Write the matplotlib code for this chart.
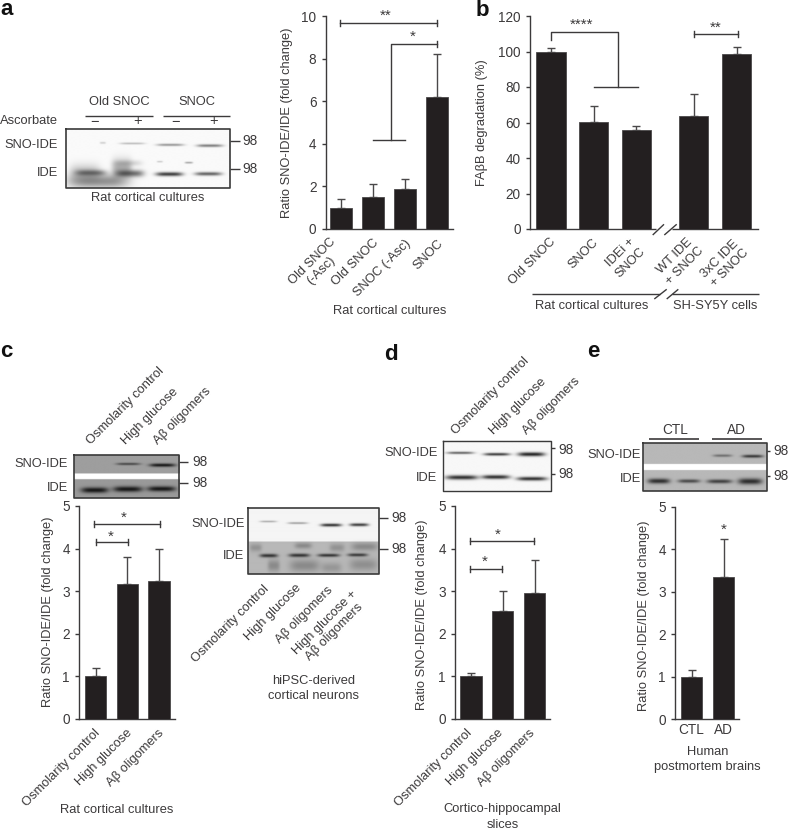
import numpy as np
import matplotlib
matplotlib.use('Agg')
import matplotlib.pyplot as plt
from matplotlib.transforms import ScaledTranslation

plt.rcParams['font.family'] = ['Liberation Sans', 'DejaVu Sans']
W, H = 788, 832
INK = '#3c3a3b'
BAR = '#231f20'
FS = 9.3
FT = 9.8

# ---- data ----
a_labels = ['Old SNOC\n(-Asc)', 'Old SNOC', 'SNOC (-Asc)', 'SNOC']
a_values = [1.0, 1.5, 1.9, 6.2]
a_upper = [1.42, 2.1, 2.37, 8.2]
b_labels = ['Old SNOC', 'SNOC', 'IDEi +\nSNOC', 'WT IDE\n+ SNOC', '3xC IDE\n+ SNOC']
b_values = [100, 60.5, 55.5, 63.5, 98.5]
b_upper = [101.8, 69.5, 58, 75.8, 102.3]
c_labels = ['Osmolarity control', 'High glucose', 'Aβ oligomers']
c_values = [1.0, 3.17, 3.24]
c_upper = [1.2, 3.8, 4.0]
d_labels = c_labels
d_values = [1.0, 2.52, 2.95]
d_upper = [1.08, 3.0, 3.72]
e_labels = ['CTL', 'AD']
e_values = [1.0, 3.35]
e_upper = [1.17, 4.23]
hipsc_labels = ['Osmolarity control', 'High glucose', 'Aβ oligomers', 'High glucose +\nAβ oligomers']

fig = plt.figure(figsize=(W / 100, H / 100), dpi=100)


def make_axes(left, right, y0, ytop, ymax, c0, spacing):
    ax = fig.add_axes([left / W, 1 - y0 / H, (right - left) / W, (y0 - ytop) / H])
    ax.set_ylim(0, ymax)
    ax.set_xlim((left - c0) / spacing, (right - c0) / spacing)
    for s in ('top', 'right'):
        ax.spines[s].set_visible(False)
    for s in ('left', 'bottom'):
        ax.spines[s].set_color(INK)
        ax.spines[s].set_linewidth(1.0)
    ax.tick_params(axis='y', length=3.2, width=1.0, color=INK, labelcolor=INK, labelsize=FT, pad=3.5)
    ax.tick_params(axis='x', length=0, labelcolor=INK, labelsize=FS)
    ax.patch.set_alpha(0)
    return ax


def bars(ax, xs, vals, upper, width=0.68):
    ax.bar(xs, vals, width=width, color=BAR, edgecolor='#4a4849', linewidth=0.6, zorder=3)
    low = np.zeros(len(vals))
    up = np.array(upper) - np.array(vals)
    ax.errorbar(xs, vals, yerr=[low, up], fmt='none', ecolor='#4a4849', elinewidth=1.0,
                capsize=2.6, capthick=1.0, zorder=2, clip_on=False)


def bracket(ax, x0, x1, y, cap):
    ax.plot([x0, x1], [y, y], color=INK, lw=1.0, clip_on=False, zorder=4)
    for x in (x0, x1):
        ax.plot([x, x], [y - cap, y + cap], color=INK, lw=1.0, clip_on=False, zorder=4)


def xlabels(ax, xs, labels, pad=9.0, spacing=1.2, nudges=None):
    ax.set_xticks(xs)
    ax.set_xticklabels(labels, rotation=45, ha='right', va='center', rotation_mode='anchor',
                       multialignment='center', linespacing=spacing)
    ax.tick_params(axis='x', pad=pad)
    if nudges:
        for lab, (dx, dy) in zip(ax.get_xticklabels(), nudges):
            off = ScaledTranslation(dx / 100, -dy / 100, fig.dpi_scale_trans)
            lab.set_transform(lab.get_transform() + off)


# ---- panel a chart ----
axa = make_axes(325.7, 452.7, 229, 16, 10, 341.3, 32)
xa = np.arange(4)
bars(axa, xa, a_values, a_upper)
axa.set_yticks([0, 2, 4, 6, 8, 10])
xlabels(axa, xa + 0.12, a_labels, spacing=1.1, nudges=[(-7, 3), (0, 0), (0, 0), (0, 0)])
bracket(axa, -0.04, 3.0, 9.67, 0.14)
axa.plot([1, 2], [4.19, 4.19], color=INK, lw=1.0, clip_on=False)
axa.plot([1.55, 1.55, 3.0], [4.19, 8.7, 8.7], color=INK, lw=1.0, clip_on=False)
axa.plot([3, 3], [8.56, 8.84], color=INK, lw=1.0, clip_on=False)

# ---- panel b chart ----
axb = make_axes(530, 757.7, 229, 16, 120, 551, 42.65)
xb = np.array([0, 1, 2, 3.35, 4.35])
bars(axb, xb, b_values, b_upper)
axb.set_yticks(range(0, 121, 20))
xlabels(axb, xb + 0.07, b_labels, nudges=[(0, -1), (0, -1), (-1, 3), (0, 3), (2, 5)])
axb.plot([0, 0, 1.57, 1.57], [106.5, 110.8, 110.8, 79.8], color=INK, lw=1.0, clip_on=False)
axb.plot([1, 2.03], [79.8, 79.8], color=INK, lw=1.0, clip_on=False)
bracket(axb, 3.35, 4.39, 110, 1.8)

# ---- panel c chart ----
axc = make_axes(79.3, 175, 718.7, 506, 5, 95.5, 31.85)
xc = np.arange(3)
bars(axc, xc, c_values, c_upper)
axc.set_yticks(range(6))
xlabels(axc, xc + 0.08, c_labels)
bracket(axc, -0.04, 2.03, 4.57, 0.07)
bracket(axc, 0.02, 1.03, 4.15, 0.07)

# ---- panel d chart ----
axd = make_axes(455.3, 550.3, 718.7, 506, 5, 470.8, 31.85)
xd = np.arange(3)
bars(axd, xd, d_values, d_upper)
axd.set_yticks(range(6))
xlabels(axd, xd - 0.03, d_labels)
bracket(axd, -0.03, 1.98, 4.17, 0.07)
bracket(axd, -0.03, 0.99, 3.51, 0.07)

# ---- panel e chart ----
axe = make_axes(675.3, 739.3, 719.3, 506.7, 5, 691.5, 32)
xe = np.arange(2)
bars(axe, xe, e_values, e_upper)
axe.set_yticks(range(6))
axe.set_xticks(xe)
axe.set_xticklabels(e_labels, fontsize=FT)
axe.tick_params(axis='x', pad=3)

# ---- overlay in pixel units ----
ov = fig.add_axes([0, 0, 1, 1], zorder=10)
ov.axis('off')
ov.patch.set_alpha(0)


def T(x, y, s, ha='center', va='center', size=FS, **kw):
    kw.setdefault('color', INK)
    ov.text(x, y, s, ha=ha, va=va, fontsize=size, **kw)


def L(xs, ys, lw=1.0, color=INK):
    ov.plot(xs, ys, color=color, lw=lw, solid_capstyle='butt')


def blot(box, regions, bands, frame='#3a3a3a', lw=1.2):
    x0, x1, y0, y1 = box
    S = 3
    xx, yy = np.meshgrid(np.linspace(x0, x1, int((x1 - x0) * S)), np.linspace(y0, y1, int((y1 - y0) * S)))
    img = np.ones_like(xx)
    for ya, yb, level in regions:
        img[(yy >= ya) & (yy < yb)] = level
    keep = np.ones_like(xx)
    for bx0, bx1, yc, strength, th in bands:
        cx, hw = (bx0 + bx1) / 2, (bx1 - bx0) / 2
        fx = np.exp(-np.abs((xx - cx) / hw) ** 4)
        fy = np.exp(-((yy - yc) / th) ** 2)
        keep = keep * (1 - strength * fx * fy)
    img = img * keep
    ov.imshow(img, cmap='gray', vmin=0, vmax=1, extent=(x0, x1, y1, y0), aspect='auto',
              interpolation='bilinear', zorder=1)
    ov.plot([x0, x1, x1, x0, x0], [y0, y0, y1, y1, y0], color=frame, lw=lw, zorder=3)


# panel letters
for x, y, s in [(0, 15, 'a'), (475.5, 16, 'b'), (0, 356.7, 'c'), (384, 360, 'd'), (587, 356.7, 'e')]:
    T(x, y, s, ha='left', va='baseline', size=16, fontweight='bold', color='#111111')

# y labels
YL = 'Ratio SNO-IDE/IDE (fold change)'
T(286.7, 122.5, YL, rotation=90)
T(482.3, 122.5, 'FAβB degradation (%)', rotation=90)
T(47.7, 611.7, YL, rotation=90)
T(422.3, 615, YL, rotation=90)
T(644, 615.8, YL, rotation=90)

# stars
for x, y, s in [(385.7, 16, '**'), (413, 37, '*'), (581.7, 25, '****'), (716, 28, '**'),
                (123.7, 518, '*'), (110.3, 536.5, '*'), (497.3, 534.5, '*'), (484.3, 562, '*'),
                (723.3, 529.5, '*')]:
    T(x, y, s, size=11)

# ---- blot a ----
T(119, 101.7, 'Old SNOC'); T(196.7, 101.7, 'SNOC')
L([85, 152.7], [116, 116]); L([162.7, 230], [116, 116])
T(58, 120.7, 'Ascorbate', ha='right')
for x, s in [(95, '−'), (137.7, '+'), (176, '−'), (213.7, '+')]:
    T(x, 121.5, s, size=10.5)
T(58, 144.7, 'SNO-IDE', ha='right'); T(58, 173, 'IDE', ha='right')
blot((66.3, 230, 129, 187.7), [(129, 188, 0.98)],
     [(68, 128, 181, 0.42, 7), (70, 100, 172, 0.22, 8), (112, 132, 168, 0.3, 9), (114, 142, 163, 0.15, 3),
      (76, 106, 172.7, 0.45, 3), (116, 144, 173.3, 0.55, 3.5),
      (156, 183, 174, 0.75, 2), (195, 222, 173.7, 0.6, 1.8),
      (100, 106, 142.7, 0.18, 1), (120, 145, 143.3, 0.25, 1), (157, 184, 144.7, 0.4, 1.2),
      (197, 223, 145.5, 0.5, 1.4), (157, 163, 161.5, 0.2, 0.8), (185, 193, 162.5, 0.35, 0.9)])
L([230, 240], [141, 141]); L([230, 240], [168.7, 168.7])
T(242, 141, '98', ha='left', size=FT); T(242, 168.7, '98', ha='left', size=FT)
T(147.7, 198, 'Rat cortical cultures')
T(389.5, 311.5, 'Rat cortical cultures')

# ---- panel b axis break and lower rule ----
L([656, 672], [229, 229], lw=2, color='white')
L([652.7, 664], [235, 224.3]); L([664.3, 676.7], [235, 224.3])
L([531.7, 660], [293.7, 293.7]); L([672, 758.7], [293.7, 293.7])
L([654.3, 666.7], [299, 289.3]); L([666.7, 678.3], [299, 289.3])
T(591.7, 306, 'Rat cortical cultures'); T(715.3, 306, 'SH-SY5Y cells')

# ---- blot c ----
for x, s in zip([93, 128.3, 160], c_labels):
    T(x, 447, s, ha='left', va='bottom', rotation=45, rotation_mode='anchor')
blot((74, 179.3, 455, 497.7), [(455, 473.3, 0.62), (473.3, 479, 1.0), (479, 498, 0.6)],
     [(116, 140, 463.8, 0.55, 1.2), (149, 175, 465, 0.85, 1.7),
      (81, 108, 490, 0.85, 2.8), (113, 142, 489, 0.85, 2.8), (147, 175, 488.7, 0.85, 2.6)])
T(67.7, 463.7, 'SNO-IDE', ha='right'); T(67.7, 487.7, 'IDE', ha='right')
L([179.3, 188], [461.7, 461.7]); L([179.3, 188], [483.3, 483.3])
T(192.7, 461.7, '98', ha='left', size=FT); T(192.7, 483.3, '98', ha='left', size=FT)
T(117, 810, 'Rat cortical cultures')

# ---- blot hiPSC ----
blot((248.3, 379.3, 508.3, 574.3), [(508, 541.7, 0.96), (541.7, 575, 0.72)],
     [(260, 277, 521.7, 0.3, 0.9), (288, 308, 523.3, 0.35, 1), (321, 342, 525.3, 0.8, 1.5),
      (350, 369, 525, 0.75, 1.5), (260, 278, 556, 0.72, 1.8), (289, 310, 555.7, 0.72, 1.8),
      (318, 340, 555.7, 0.72, 1.6), (348, 368, 555.3, 0.68, 1.6),
      (250, 262, 548, 0.2, 4), (268, 280, 566, 0.25, 6), (295, 312, 546, 0.25, 3), (290, 320, 566, 0.25, 6),
      (330, 345, 548, 0.2, 4), (322, 342, 568, 0.18, 5), (350, 378, 565, 0.22, 6), (352, 378, 547, 0.25, 4)])
T(244.3, 523.7, 'SNO-IDE', ha='right'); T(244.3, 555.7, 'IDE', ha='right')
L([379.3, 388], [518.3, 518.3]); L([379.3, 388], [549, 549])
T(391, 518.3, '98', ha='left', size=FT); T(391, 549, '98', ha='left', size=FT)
for x, y, s in zip([263, 295, 327, 351], [583, 582, 584, 588], hipsc_labels):
    ov.text(x, y, s, ha='right', va='top', rotation=45, rotation_mode='anchor', color=INK,
            fontsize=FS, multialignment='center', linespacing=1.15)
T(314, 680.7, 'hiPSC-derived'); T(314, 696, 'cortical neurons')

# ---- blot d ----
for x, s in zip([458.3, 496, 529.3], d_labels):
    T(x, 436.7, s, ha='left', va='bottom', rotation=45, rotation_mode='anchor')
blot((443.3, 551, 440.7, 491), [(440, 491, 0.97)],
     [(447, 474, 453.3, 0.6, 1.2), (484, 510, 454.7, 0.75, 1.4), (518, 545, 454.7, 0.85, 2),
      (446, 478, 477.7, 0.8, 2.2), (482, 510, 477.3, 0.8, 2), (517, 547, 479, 0.8, 1.9)], lw=1.0)
T(437.3, 452.7, 'SNO-IDE', ha='right'); T(437.3, 478, 'IDE', ha='right')
L([551, 555], [448.3, 448.3]); L([551, 555], [474.3, 474.3])
T(558.3, 450, '98', ha='left', size=FT); T(558.3, 474, '98', ha='left', size=FT)
T(502.3, 809.3, 'Cortico-hippocampal'); T(502.3, 825, 'slices')

# ---- blot e ----
T(675, 430, 'CTL', size=FT); T(736, 430, 'AD', size=FT)
L([649.3, 699.3], [439.3, 439.3], lw=1.2); L([712.3, 762.3], [439.3, 439.3], lw=1.2)
blot((643.3, 766.7, 443.3, 490.7), [(443, 464, 0.72), (464, 470, 1.0), (470, 491, 0.72)],
     [(713, 732, 455.7, 0.4, 1.3), (742, 763, 456.3, 0.7, 1.5),
      (648, 670, 481, 0.75, 2.5), (678, 700, 481, 0.6, 1.8), (707, 732, 481.3, 0.65, 2),
      (738, 762, 481.3, 0.75, 3)], lw=1.2)
T(640.7, 455, 'SNO-IDE', ha='right'); T(640.7, 478.7, 'IDE', ha='right')
L([766.7, 770], [451, 451]); L([766.7, 770], [475.7, 475.7])
T(773.3, 451, '98', ha='left', size=FT); T(773.3, 475.7, '98', ha='left', size=FT)
T(707.3, 751.7, 'Human'); T(707.3, 767.3, 'postmortem brains')

ov.set_xlim(0, W)
ov.set_ylim(H, 0)

fig.savefig('out.png', dpi=100, facecolor='white')
